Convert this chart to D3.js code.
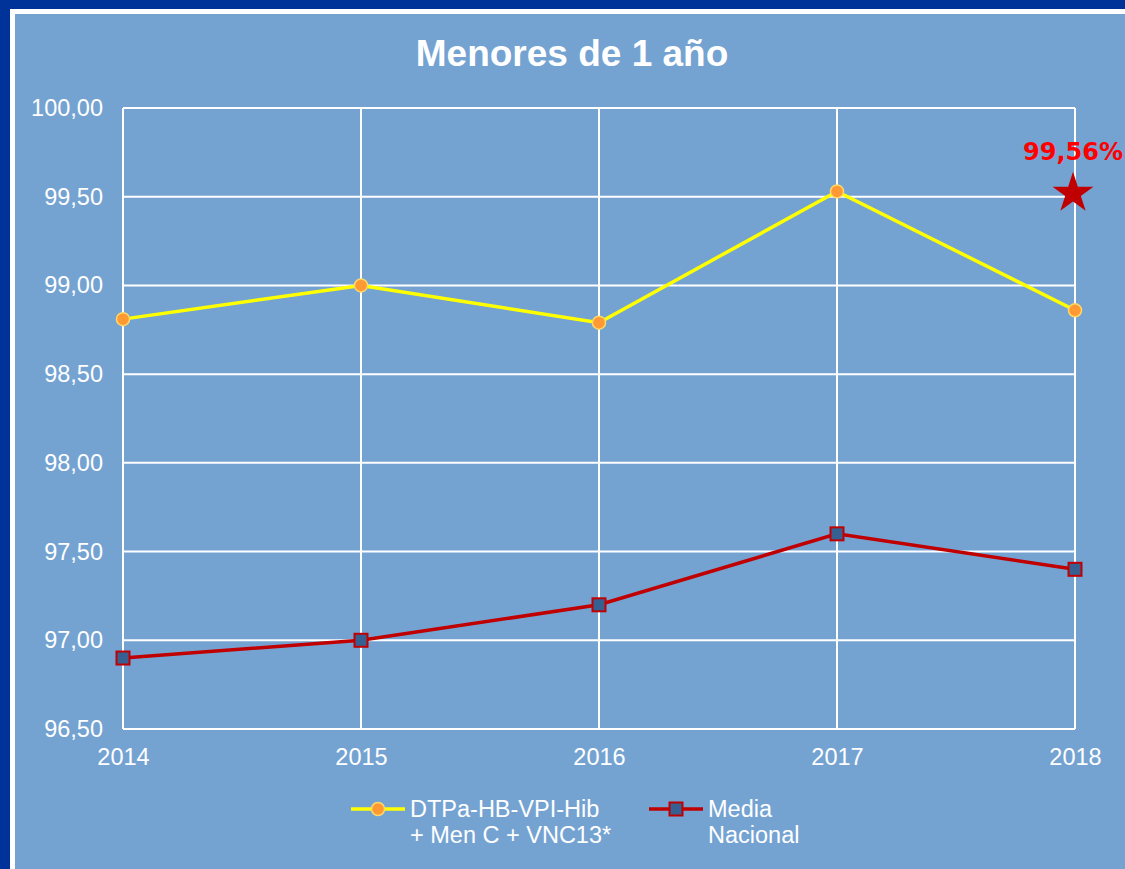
<!DOCTYPE html>
<html lang="es">
	<head>
		<meta charset="utf-8">
		<title>Menores de 1 año</title>
		<script type="text/javascript" src="https://cdn.jsdelivr.net/npm/d3@7"></script>
		<style type="text/css">
			body { margin: 0; background: #003399; }
			svg { display: block; }
		</style>
	</head>

	<body>
		<script type="text/javascript">

		// chart width and height
		var w = 1125;
		var h = 869;

		// data
		var years = ["2014", "2015", "2016", "2017", "2018"];
		var vacuna = [98.81, 99.00, 98.79, 99.53, 98.86];
		var media = [96.90, 97.00, 97.20, 97.60, 97.40];
		var yTicks = [96.5, 97, 97.5, 98, 98.5, 99, 99.5, 100];
		var starYear = "2018";
		var starValue = 99.53;
		var starLabel = "99,56%";
		var legendLabels = [["DTPa-HB-VPI-Hib", "+ Men C + VNC13*"], ["Media", "Nacional"]];

		var svg = d3.select("body")
			.append("svg")
			.attr("width", w)
			.attr("height", h);

		// frame
		svg.append("rect")
			.attr("x", 0).attr("y", 0)
			.attr("width", w).attr("height", h)
			.attr("fill", "#003399");
		svg.append("rect")
			.attr("x", 10).attr("y", 9)
			.attr("width", w).attr("height", h)
			.attr("fill", "#ffffff");
		svg.append("rect")
			.attr("x", 15).attr("y", 14)
			.attr("width", w).attr("height", h)
			.attr("fill", "#74a3d2");

		// title
		svg.append("text")
			.attr("x", 572)
			.attr("y", 66)
			.attr("text-anchor", "middle")
			.attr("font-family", "Liberation Sans, Arial, sans-serif")
			.attr("font-weight", "bold")
			.attr("font-size", 37)
			.attr("fill", "#ffffff")
			.text("Menores de 1 año");

		// scales
		var x = d3.scalePoint()
			.domain(years)
			.range([123, 1075]);

		var y = d3.scaleLinear()
			.domain([96.5, 100])
			.range([729, 108]);

		var fmt = function(d) { return d3.format(".2f")(d).replace(".", ","); };

		// grid
		svg.append("g")
			.selectAll("line")
			.data(yTicks)
			.enter()
			.append("line")
			.attr("x1", 123).attr("x2", 1075)
			.attr("y1", function(d) { return y(d); })
			.attr("y2", function(d) { return y(d); })
			.attr("stroke", "#ffffff")
			.attr("stroke-width", 2);

		svg.append("g")
			.selectAll("line")
			.data(years)
			.enter()
			.append("line")
			.attr("x1", function(d) { return x(d); })
			.attr("x2", function(d) { return x(d); })
			.attr("y1", y(96.5)).attr("y2", y(100))
			.attr("stroke", "#ffffff")
			.attr("stroke-width", 2);

		// y axis
		var yAxis = svg.append("g")
			.attr("transform", "translate(123,0)")
			.call(d3.axisLeft(y).tickValues(yTicks).tickFormat(fmt).tickSize(0).tickPadding(20));
		yAxis.select(".domain").remove();
		yAxis.selectAll("text")
			.attr("font-family", "Liberation Sans, Arial, sans-serif")
			.attr("font-size", 23.5)
			.attr("fill", "#ffffff");

		// x axis
		var xAxis = svg.append("g")
			.attr("transform", "translate(0,729)")
			.call(d3.axisBottom(x).tickSize(0).tickPadding(19));
		xAxis.select(".domain").remove();
		xAxis.selectAll("text")
			.attr("font-family", "Liberation Sans, Arial, sans-serif")
			.attr("font-size", 23.5)
			.attr("fill", "#ffffff");

		// lines
		var line = d3.line()
			.x(function(d, i) { return x(years[i]); })
			.y(function(d) { return y(d); });

		svg.append("path")
			.datum(vacuna)
			.attr("d", line)
			.attr("fill", "none")
			.attr("stroke", "#ffff00")
			.attr("stroke-width", 3.5);

		svg.append("path")
			.datum(media)
			.attr("d", line)
			.attr("fill", "none")
			.attr("stroke", "#c00000")
			.attr("stroke-width", 3.5);

		// markers
		svg.selectAll("circle.vac")
			.data(vacuna)
			.enter()
			.append("circle")
			.attr("class", "vac")
			.attr("cx", function(d, i) { return x(years[i]); })
			.attr("cy", function(d) { return y(d); })
			.attr("r", 6.5)
			.attr("fill", "#ff9933")
			.attr("stroke", "#ffd966")
			.attr("stroke-width", 1.5);

		svg.selectAll("rect.med")
			.data(media)
			.enter()
			.append("rect")
			.attr("class", "med")
			.attr("x", function(d, i) { return x(years[i]) - 6.5; })
			.attr("y", function(d) { return y(d) - 6.5; })
			.attr("width", 13)
			.attr("height", 13)
			.attr("fill", "#366092")
			.attr("stroke", "#c00000")
			.attr("stroke-width", 2);

		// star annotation
		svg.append("path")
			.attr("d", d3.symbol().type(d3.symbolStar).size(520)())
			.attr("transform", "translate(" + (x(starYear) - 2) + "," + (y(starValue) + 2) + ")")
			.attr("fill", "#c00000");

		svg.append("text")
			.attr("x", x(starYear) - 2)
			.attr("y", 160)
			.attr("text-anchor", "middle")
			.attr("font-family", "DejaVu Sans, sans-serif")
			.attr("font-weight", "bold")
			.attr("font-size", 24)
			.attr("fill", "#ff0000")
			.text(starLabel);

		// legend
		var legend = svg.append("g")
			.attr("font-family", "Liberation Sans, Arial, sans-serif")
			.attr("font-size", 23.5)
			.attr("fill", "#ffffff");

		var lg1 = legend.append("g").attr("transform", "translate(351,809)");
		lg1.append("line").attr("x1", 0).attr("x2", 54).attr("stroke", "#ffff00").attr("stroke-width", 3.5);
		lg1.append("circle").attr("cx", 27).attr("r", 6.5).attr("fill", "#ff9933").attr("stroke", "#ffd966").attr("stroke-width", 1.5);
		var t1 = lg1.append("text").attr("x", 59).attr("y", 8);
		t1.append("tspan").attr("x", 59).text(legendLabels[0][0]);
		t1.append("tspan").attr("x", 59).attr("dy", 26).text(legendLabels[0][1]);

		var lg2 = legend.append("g").attr("transform", "translate(649,809)");
		lg2.append("line").attr("x1", 0).attr("x2", 54).attr("stroke", "#c00000").attr("stroke-width", 3.5);
		lg2.append("rect").attr("x", 20.5).attr("y", -6.5).attr("width", 13).attr("height", 13).attr("fill", "#366092").attr("stroke", "#c00000").attr("stroke-width", 2);
		var t2 = lg2.append("text").attr("x", 59).attr("y", 8);
		t2.append("tspan").attr("x", 59).text(legendLabels[1][0]);
		t2.append("tspan").attr("x", 59).attr("dy", 26).text(legendLabels[1][1]);

		</script>
	</body>
</html>
